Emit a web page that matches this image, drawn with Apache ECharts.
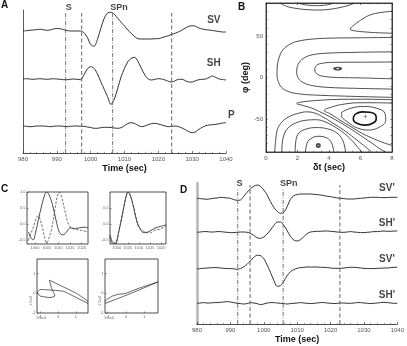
<!DOCTYPE html>
<html><head><meta charset="utf-8">
<script src="https://cdn.jsdelivr.net/npm/echarts@6/dist/echarts.min.js"></script>
<style>html,body{margin:0;padding:0;background:#fff}#c{width:407px;height:346px}</style>
</head><body><div id="c"></div>
<script>
// ---------- DATA ----------
const times = [980,981,982,983,984,985,986,987,988,989,990,991,992,993,994,995,996,997,998,999,1000,1001,1002,1003,1004,1005,1006,1007,1008,1009,1010,1011,1012,1013,1014,1015,1016,1017,1018,1019,1020,1021,1022,1023,1024,1025,1026,1027,1028,1029,1030,1031,1032,1033,1034,1035,1036,1037,1038,1039,1040];
const timeTicks = [980,990,1000,1010,1020,1030,1040];

// Panel A traces (relative amplitude)
const aSV = [-1,-0.7,-0.3,0,0.3,0.7,0.3,-0.3,0,1, 1.5,1.3,0.3,-0.5,-1,-1,-1,-1,-2.7,-7.3, -14.5,-16.3,-9.3,1.7,11.7,17,17.7,15.7,11.7,7.7, 4,0,-3.3,-6.7,-8.7,-9,-9,-9,-9,-8.7, -8.7,-7.7,-6.7,-5.7,-4.3,-3.2,-1.8,0,2,3.7, 4.3,3.7,2,1,0.3,0,-0.5,-1,-1.5,-2, -2];
const aSH = [0,0.3,0,-0.3,0,0.3,0,-0.3,0,0.3, 0,-0.3,-0.7,-0.7,-0.3,0,-0.3,-0.7,4,10, 12.3,10.7,5,-2.7,-10.3,-17.7,-25.5,-20,-9.3,2.3, 10.7,17.3,20.7,21.7,17.3,10.7,4,0,-1,-0.3, 0.3,0,-1,-2.3,-3,-1.7,-0.3,-0.3,-1.7,-3, -3,-1.7,-0.7,-0.3,0,1.5,3,1.5,0,-0.5, -1];
const aP = [0,-0.3,-0.7,-0.5,0,0,0,-0.3,-0.7,-0.3, 0,0,-0.3,-0.7,-0.3,0,0,-0.3,-0.3,-1, -1.5,-2.3,-2.3,-1.7,-1.3,-1.3,-1.5,-2,-2.3,-1.7, 0.3,2.5,3.3,2.5,0.7,-0.7,0,1.3,2.3,2.7, 2,1,0,-0.7,-0.3,0,-0.7,-2,-3.7,-5.7, -6.7,-5.7,-3.3,-1.3,0.3,1,1.3,1.7,2.3,3, 3.3];
const aTraceNames = ['SV','SH','P'];
const aPhaseNames = ['S','SPn'];
const aPhaseTimes = [992.6, 1006.5];     // dash-dot lines
const aWindowTimes = [997.35, 1023.95];  // dashed lines

// Panel D traces
const dSV1 = [0,-0.3,-0.7,-1,-0.5,0,0.3,1,0.7,0.3, 0,-1.3,-2,-1.7,2,6,9.5,12,13.3,12, 8.3,3.3,-3.3,-9,-13,-15,-14,-8.3,-1,2.7, 3.7,4.3,4.3,4.3,4.3,4,3.7,3.3,2.7,2, 1.7,1,0.3,0,-0.3,-0.7,-0.7,-0.7,-0.3,0, 0.3,0.7,1,1,1,0.7,0.7,0.7,1,1, 1];
const dSH2 = [0,0.3,0.7,0.7,0.3,0.3,0.7,0.7,0.3,0, -0.3,-0.3,0,0.3,0.3,0,-1,-3,-5.5,-6, -4.7,-1.7,2.3,6.7,10.3,10.3,7,1.7,-4.3,-7.7, -8.7,-7.3,-4.3,-1.3,0.3,0.7,1,1,1.3,1.3, 1,0.7,0.3,0,0,0.3,0.7,0.3,0,-0.3, -0.3,0,0.3,0.7,0.7,1,1.3,1,1,1.3, 1.3];
const dSV3 = [-0.7,-0.3,0,0.3,0.5,0.7,0.7,0.3,0,-0.3, -0.3,-0.5,-1,-0.3,1.5,4,7.5,11,13,12.7, 9.7,3.3,-4,-12,-18,-17.3,-13,-7.3,-3.3,-1.3, 0,0.7,1,1.3,1.3,1.3,1.3,1,1,0.7, 0.3,0,0,0,0.3,0.7,1,1,0.7,0.3, 0,-0.3,-0.3,-0.3,0,0,0.3,0.3,0.7,1, 1];
const dSH4 = [0,0.3,0.7,0.3,0.3,0.7,0.7,1,1.3,1.7, 1.3,0.7,0,-0.3,-0.7,-0.3,0.7,0.3,-0.3,-1.3, -0.7,0.3,0.7,0.7,0.3,0,-0.3,-0.7,-0.3,0, 0.3,0.7,0.3,0,-0.3,0,0.3,0.7,0.7,0.3, 0,-0.3,0,0.3,0.3,0,0,0.3,0.7,0.7, 0.3,0,-0.3,0,0.3,0.7,1,0.7,0.3,0, 0];
const dTraceNames = ["SV'","SH'","SV'","SH'"];
const dPhaseNames = ['S','SPn'];
const dPhaseTimes = [992.2, 1005.8];
const dWindowTimes = [995.9, 1022.8];

// Panel B contours [dt (sec), phi (deg)]
const bDtTicks = [0,2,4,6,8];
const bPhiTicks = [-50,0,50];
const bTopOuter = [[0.9,90],[1.3,86],[1.9,83.5],[2.6,82],[3.3,81.5],[4.0,82.3],[4.7,84.5],[5.3,87.5],[5.6,90]];
const bTopInner = [[2.0,90],[2.5,87.8],[3.2,86.8],[3.9,87.8],[4.3,90]];
const bTongue = [[8,80],[7.3,78.5],[6.6,75.5],[6.0,69],[5.5,62],[5.35,58.5],[5.6,56.5],[6.3,55],[7.2,54],[8,53.5]];
const bBandOuter = [[8,48.4],[6,48],[4,47.5],[3,46.5],[2.2,44.5],[1.6,41],[1.1,34],[0.85,25],[0.72,14],[0.7,4],[0.8,-6],[1.05,-13],[1.5,-17.5],[2.2,-20],[3.2,-21.3],[5,-22.5],[6.5,-23.3],[8,-24]];
const bBandMid = [[8,31],[6,30.5],[4,29.5],[3.1,28],[2.5,24.5],[2.1,18],[1.95,8],[2.05,-1],[2.4,-6.5],[3.0,-10],[4.0,-12],[5.5,-13],[8,-14]];
const bBandInner = [[8,18.7],[6,18.5],[4.3,18.3],[3.6,17.3],[3.2,14.6],[3.1,9],[3.3,3.5],[3.8,1],[4.6,0],[6,-0.5],[8,-1.6]];
const bWedgeOuter = [[8,-26.8],[6,-26.2],[4.5,-26.5],[3.2,-27.8],[2.3,-29.5],[1.95,-31.5],[2.3,-33.5],[2.9,-37],[3.6,-43],[4.4,-51],[5.2,-60],[6,-70],[6.7,-79],[7.3,-87],[7.6,-90]];
const bWedgeMid = [[8,-31],[7,-30.5],[6,-30.5],[5,-32],[4.2,-35.5],[3.7,-40],[4.1,-44],[4.7,-51.5],[5.4,-59.5],[6.1,-67.5],[6.9,-74.5],[7.5,-79],[8,-82]];
const bLoopOuter = [[4.8,-42],[5.4,-37],[6.2,-35],[7.0,-37],[7.55,-43],[7.6,-52],[7.2,-60],[6.5,-63.5],[5.8,-61],[5.2,-54],[4.8,-46],[4.8,-42]];
const bLoopInner = [[5.55,-48],[5.7,-44],[6.1,-41.5],[6.6,-42],[6.95,-45],[7.0,-50],[6.8,-55],[6.3,-57.5],[5.8,-55.5],[5.55,-51],[5.55,-48]];
const bBasin1 = [[2.5,-90],[2.6,-80],[2.8,-74.5],[3.3,-71],[3.8,-72.5],[4.1,-77],[4.25,-84],[4.3,-90]];
const bBasin2 = [[1.85,-90],[1.9,-76],[2.1,-67],[2.6,-62],[3.2,-60.5],[3.9,-62],[4.5,-67],[4.85,-75],[5.0,-84],[5.05,-90]];
const bBasin3 = [[1.0,-90],[1.1,-72],[1.4,-61],[1.95,-54.5],[2.6,-51.5],[3.2,-51],[3.8,-54],[4.4,-60],[5.0,-68],[5.5,-77],[5.9,-86],[6.1,-90]];
const bBasin4 = [[0.55,-90],[0.62,-75],[0.72,-63],[1.0,-54],[1.4,-48],[2.0,-43.5],[2.6,-41.5],[3.1,-43],[3.6,-47.5],[4.2,-54.5],[4.9,-63],[5.6,-73],[6.2,-82],[6.7,-90]];
const bBestFit = [6.3,-47.5];
const bSecondMin = [3.32,-82];
const bCenterOval = [4.55,10.8];

// Panel C
const c1TimeTicks = [1000,1005,1010,1015,1020];
const c1AmpTicks = [-0.5,0,0.5,1];
const c2AmpTicks = [-0.5,0,0.5];
const cMotionTicks = [-1,0,1];
const c1Solid = [[997.2,-0.25],[998.2,-0.42],[999.2,-0.5],[1000.3,-0.25],[1001.5,0.15],[1003,0.62],[1004.2,0.92],[1005,1.0],[1006,0.92],[1007.5,0.6],[1009,0.12],[1010.5,-0.27],[1012,-0.34],[1013.5,-0.25],[1015,-0.12],[1017,-0.14],[1019,-0.12],[1021,-0.1],[1022.7,-0.12]];
const c1Dashed = [[997.13,-0.5],[998.2,-0.3],[999.3,-0.1],[1000.4,0.15],[1001.4,0.26],[1002.3,0.12],[1003.3,-0.15],[1004.2,-0.45],[1005,-0.6],[1005.9,-0.45],[1007.2,-0.12],[1008.3,0.35],[1009.5,0.85],[1010.4,1.0],[1011.3,0.88],[1012.9,0.38],[1014.3,0.0],[1015.7,-0.13],[1017.5,-0.17],[1019.3,-0.19],[1021,-0.22],[1022.7,-0.24]];
const c2Solid = [[997.0,-0.34],[998.3,-0.58],[999.6,-0.6],[1000.8,-0.3],[1002.2,0.18],[1003.7,0.7],[1004.6,0.95],[1005.2,1.0],[1006,0.92],[1007.4,0.59],[1008.6,0.22],[1009.7,-0.03],[1011,-0.2],[1012,-0.27],[1013.5,-0.26],[1015,-0.22],[1017.2,-0.13],[1019.5,-0.08],[1022.2,-0.03]];
const c2Dashed = [[997.0,-0.41],[998.3,-0.62],[999.6,-0.58],[1000.8,-0.26],[1002.4,0.22],[1003.8,0.72],[1004.7,0.95],[1005.3,0.98],[1006.1,0.9],[1007.5,0.56],[1008.7,0.18],[1009.7,-0.06],[1011,-0.18],[1012,-0.22],[1013.5,-0.27],[1015,-0.28],[1017.2,-0.19],[1019.5,-0.16],[1022.2,-0.06]];
const c3Motion = [[1.67,-0.52],[0.67,-0.06],[0.295,0.10],[-0.26,0.15],[-1.0,0.19],[-1.15,0.04],[-1.0,-0.14],[-0.45,-0.22],[-0.17,-0.14],[-0.35,0.24],[-0.485,0.66],[0.295,0.32],[1.04,-0.01],[1.67,-0.41]];
const c4Motion = [[-1.15,-0.52],[-0.054,-0.13],[0.77,0.18],[1.77,0.57],[0.77,0.27],[-0.054,-0.02],[-0.38,-0.05],[-0.71,-0.13],[-0.99,-0.28],[-1.15,-0.41]];

// ---------- LAYOUT / STYLE ----------
const FONT = '"Liberation Sans", Arial, sans-serif';
const aOffsets = [123, 74, 27];
const dOffsets = [125.7, 91.7, 55.7, 20.7];
const DASHDOT = [4,1.5,1,1.5];
const DASHED = [4,2.5];
const INK = '#1c1c1c';

const chart = echarts.init(document.getElementById('c'), null, {renderer:'canvas'});
const plain = v => String(v);
const tickLab = {fontSize:6, color:'#555', fontFamily:FONT, margin:3, formatter:plain};
const tinyLab = {fontSize:4, color:'#666', fontFamily:FONT, margin:1.5};
const axisName = {fontSize:9, fontWeight:'bold', color:'#111', fontFamily:FONT};
const blackLine = {onZero:false, lineStyle:{color:'#222', width:0.8}};
const box = {show:true, borderColor:'#222', borderWidth:0.8, backgroundColor:'transparent'};

const grid = [
  {left:23, top:10, width:203, height:143},            // A
  Object.assign({left:266, top:3, width:126, height:149}, box), // B
  Object.assign({left:27, top:192, width:61, height:52}, box),  // C1
  Object.assign({left:110, top:192, width:56, height:52}, box), // C2
  Object.assign({left:37, top:259, width:51, height:54}, box),  // C3
  Object.assign({left:105, top:259, width:53, height:54}, box), // C4
  {left:197, top:183, width:203, height:141}           // D
];

function timeAxis(g){
  return {gridIndex:g, type:'value', min:980, max:1040, interval:10,
    axisLine:blackLine, axisTick:{inside:true, length:2, lineStyle:{color:'#222', width:0.6}},
    minorTick:{show:true, splitNumber:5, length:1.2, lineStyle:{color:'#444', width:0.5}},
    axisLabel:Object.assign({customValues:timeTicks}, tickLab), splitLine:{show:false},
    name:'Time (sec)', nameLocation:'middle', nameGap:11.5, nameTextStyle:axisName};
}
function cAxis(g, min, max, ticks, fmt, pos){
  return {gridIndex:g, type:'value', min:min, max:max, position:pos,
    axisLine:{show:false, onZero:false},
    axisTick:{show:true, inside:true, length:1.5, customValues:ticks, lineStyle:{color:'#222', width:0.5}},
    axisLabel:Object.assign({customValues:ticks, formatter:fmt}, tinyLab), splitLine:{show:false}};
}
const f1 = v => v.toFixed(1);
const f0 = v => String(Math.round(v));

const xAxis = [
  timeAxis(0),
  {gridIndex:1, type:'value', min:0, max:8, interval:2, axisLine:blackLine,
   axisTick:{inside:true, length:2, lineStyle:{color:'#222', width:0.6}},
   minorTick:{show:true, splitNumber:4, length:1.3, lineStyle:{color:'#333', width:0.5}},
   axisLabel:Object.assign({}, tickLab, {customValues:bDtTicks}), splitLine:{show:false},
   name:'δt (sec)', nameLocation:'middle', nameGap:11.5, nameTextStyle:axisName},
  {gridIndex:1, type:'value', min:0, max:8, interval:2, position:'top', axisLine:blackLine,
   axisTick:{inside:true, length:2, lineStyle:{color:'#222', width:0.6}},
   minorTick:{show:true, splitNumber:4, length:1.3, lineStyle:{color:'#333', width:0.5}},
   axisLabel:{show:false}, splitLine:{show:false}},
  cAxis(2, 996.57, 1022.7, c1TimeTicks, f0),
  cAxis(3, 997.0, 1022.2, c1TimeTicks, f0),
  cAxis(4, -1.17, 1.67, cMotionTicks, f0),
  cAxis(5, -1.15, 1.77, cMotionTicks, f0),
  timeAxis(6)
];
const yAxis = [
  {gridIndex:0, type:'value', min:0, max:143, axisLine:{show:true, onZero:false, lineStyle:{color:'#333', width:0.8}}, axisTick:{show:false}, axisLabel:{show:false}, splitLine:{show:false}},
  {gridIndex:1, type:'value', min:-90, max:90, interval:10, axisLine:blackLine,
   axisTick:{inside:true, length:1.6, lineStyle:{color:'#222', width:0.5}},
   axisLabel:Object.assign({}, tickLab, {customValues:bPhiTicks}), splitLine:{show:false},
   name:'φ (deg)', nameLocation:'middle', nameGap:12, nameRotate:90, nameTextStyle:axisName},
  {gridIndex:1, type:'value', min:-90, max:90, interval:10, position:'right', axisLine:blackLine,
   axisTick:{inside:true, length:1.6, lineStyle:{color:'#222', width:0.5}},
   axisLabel:{show:false}, splitLine:{show:false}},
  cAxis(2, -0.625, 1.0, c1AmpTicks, f1),
  cAxis(3, -0.625, 1.0, c2AmpTicks, f1),
  cAxis(4, -1, 1.73, cMotionTicks, f0),
  cAxis(5, -1, 1.73, cMotionTicks, f0),
  {gridIndex:6, type:'value', min:0, max:141, axisLine:{show:true, onZero:false, lineStyle:{color:'#b5b5b5', width:2.5}}, axisTick:{show:false}, axisLabel:{show:false}, splitLine:{show:false}}
];

const series = [];
function trace(ax, vals, off){
  series.push({type:'line', xAxisIndex:ax, yAxisIndex:ax, data:times.map((t,i)=>[t, off+vals[i]]),
    symbol:'none', smooth:0.3, lineStyle:{color:INK, width:0.9}, silent:true});
}
function vline(ax, t, y0, y1, dash, color){
  series.push({type:'line', xAxisIndex:ax, yAxisIndex:ax, data:[[t,y0],[t,y1]], symbol:'none',
    lineStyle:{color:color, width:0.9, type:dash}, silent:true});
}
function labels(ax, items, style){
  series.push({type:'scatter', xAxisIndex:ax, yAxisIndex:ax, symbolSize:1, clip:false, silent:true,
    itemStyle:{color:'rgba(0,0,0,0)'},
    data:items.map(it=>({value:[it[0],it[1]], label:Object.assign({show:true, formatter:it[2], position:'inside', fontFamily:FONT, color:'#111'}, style)}))});
}
function curve(xi, yi, pts, opt){
  series.push(Object.assign({type:'line', xAxisIndex:xi, yAxisIndex:yi, data:pts, symbol:'none', silent:true,
    smooth:0.4, lineStyle:{color:'#222', width:0.8}}, opt||{}));
}

// Panel A
trace(0, aSV, aOffsets[0]); trace(0, aSH, aOffsets[1]); trace(0, aP, aOffsets[2]);
vline(0, aPhaseTimes[0], 0, 140, DASHDOT, '#666');
vline(0, aPhaseTimes[1], 0, 140, DASHDOT, '#666');
vline(0, aWindowTimes[0], 0, 140, DASHED, '#555');
vline(0, aWindowTimes[1], 0, 140, DASHED, '#555');
labels(0, [[1036.4, 133, aTraceNames[0]], [1036.4, 89.7, aTraceNames[1]], [1041.6, 38, aTraceNames[2]]], {fontSize:10, fontWeight:'bold'});
labels(0, [[993.5, 145, aPhaseNames[0]], [1008.4, 145, aPhaseNames[1]]], {fontSize:9, fontWeight:'bold'});

// Panel D
trace(7, dSV1, dOffsets[0]); trace(7, dSH2, dOffsets[1]); trace(7, dSV3, dOffsets[2]); trace(7, dSH4, dOffsets[3]);
vline(7, dPhaseTimes[0], 0, 135.7, DASHDOT, '#666');
vline(7, dPhaseTimes[1], 0, 135.7, DASHDOT, '#666');
vline(7, dWindowTimes[0], 0, 139, DASHED, '#555');
vline(7, dWindowTimes[1], 0, 139, DASHED, '#555');
labels(7, [[1036.9, 135.7, dTraceNames[0]], [1036.9, 100.7, dTraceNames[1]], [1036.9, 64.7, dTraceNames[2]], [1036.9, 29, dTraceNames[3]]], {fontSize:10, fontWeight:'bold'});
labels(7, [[992.7, 140, dPhaseNames[0]], [1007.5, 140, dPhaseNames[1]]], {fontSize:9, fontWeight:'bold'});

// Panel B
[bTopOuter, bTopInner, bTongue, bBandOuter, bBandMid, bBandInner, bWedgeOuter, bWedgeMid, bLoopOuter,
 bBasin1, bBasin2, bBasin3, bBasin4].forEach(c => curve(1, 1, c));
curve(1, 1, bLoopInner, {lineStyle:{color:'#111', width:1.6}});
series.push({type:'scatter', xAxisIndex:1, yAxisIndex:1, silent:true, symbol:'emptyCircle', symbolSize:3,
  itemStyle:{color:'#222', borderWidth:0.7}, data:[bSecondMin]});
series.push({type:'scatter', xAxisIndex:1, yAxisIndex:1, silent:true, symbol:'emptyCircle', symbolSize:[6,2.5],
  itemStyle:{color:'#222', borderWidth:0.7}, data:[bCenterOval]});
labels(1, [[bBestFit[0], bBestFit[1], '+']], {fontSize:7});

// Panel C
curve(3, 3, c1Solid, {smooth:0.35});
curve(3, 3, c1Dashed, {smooth:0.35, lineStyle:{color:'#333', width:0.7, type:[2.5,1.5]}});
curve(4, 4, c2Solid, {smooth:0.35});
curve(4, 4, c2Dashed, {smooth:0.35, lineStyle:{color:'#333', width:0.7, type:[2.5,1.5]}});
curve(5, 5, c3Motion, {smooth:0.15, lineStyle:{color:'#222', width:0.7}});
curve(6, 6, c4Motion, {smooth:0.1, lineStyle:{color:'#222', width:0.7}});

const letter = (t, x, y) => ({type:'text', left:x, top:y, silent:true, style:{text:t, font:'bold 10px ' + FONT, fill:'#111'}});
const tiny = (t, x, y, rot) => ({type:'text', x:x, y:y, rotation:rot||0, silent:true, style:{text:t, font:'4px ' + FONT, fill:'#666'}});

chart.setOption({
  animation:false,
  backgroundColor:'#fff',
  textStyle:{fontFamily:FONT},
  grid:grid, xAxis:xAxis, yAxis:yAxis, series:series,
  graphic:[
    letter('A', 1, 0), letter('B', 238, 2), letter('C', 1, 184), letter('D', 180, 185),
    tiny('1.5e4', 29, 306, Math.PI/2), tiny('1.5e4', 36, 316),
    tiny('1.5e4', 98, 306, Math.PI/2), tiny('1.5e4', 104, 316)
  ]
});
</script>
</body></html>
